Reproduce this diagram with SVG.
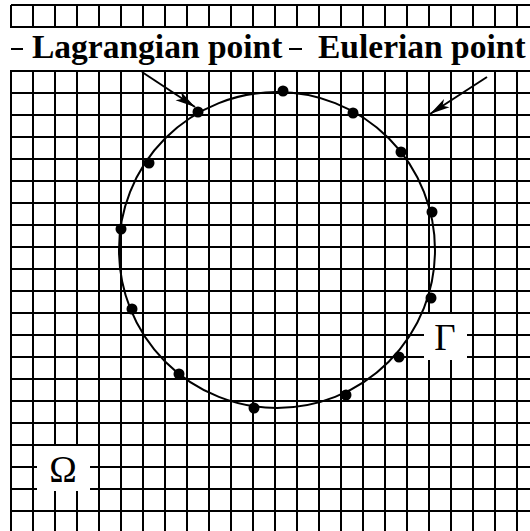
<svg xmlns="http://www.w3.org/2000/svg" width="530" height="531" viewBox="0 0 530 531">
<defs>
<style>
.grid{stroke:#000;stroke-width:2;fill:none}
.mask{fill:#fff}
.boundary{stroke:#000;stroke-width:2;fill:none}
.pt{fill:#000}
.lbl{font-family:"Liberation Serif","Times New Roman",serif;font-weight:bold;font-size:33.5px;fill:#000}
.sym{font-family:"Liberation Serif","Times New Roman",serif;font-size:37px;fill:#000}
.conn{stroke:#000;stroke-width:2;fill:none}
</style>
<marker id="ah" markerUnits="userSpaceOnUse" markerWidth="22" markerHeight="14" refX="20" refY="6" orient="auto">
<path d="M0,1 L20,6 L0,11 L5,6 z" fill="#000"/>
</marker>
</defs>
<rect width="530" height="531" fill="#fff"/>
<g id="grid">
<path class="grid" d="M11 5V531M33 5V531M55 5V531M77 5V531M99 5V531M121 5V531M143 5V531M165 5V531M187 5V531M209 5V531M231 5V531M253 5V531M275 5V531M297 5V531M319 5V531M341 5V531M363 5V531M385 5V531M407 5V531M429 5V531M451 5V531M473 5V531M495 5V531M517 5V531"/>
<path class="grid" d="M11 5H530M11 27H530M11 49H530M11 71H530M11 93H530M11 115H530M11 137H530M11 159H530M11 181H530M11 203H530M11 225H530M11 247H530M11 269H530M11 291H530M11 313H530M11 335H530M11 357H530M11 379H530M11 401H530M11 423H530M11 445H530M11 467H530M11 489H530M11 511H530"/>
</g>
<g id="label-band">
<rect class="mask" x="0" y="28" width="530" height="42"/>
<path class="grid" d="M11 49H23M289 49H302"/>
</g>
<g id="boundary">
<circle class="boundary" cx="277" cy="250" r="158"/>
</g>
<g id="lagrangian-points">
<circle class="pt" cx="198" cy="112" r="5.5"/>
<circle class="pt" cx="283" cy="91" r="5.5"/>
<circle class="pt" cx="353" cy="113" r="5.5"/>
<circle class="pt" cx="401" cy="152" r="5.5"/>
<circle class="pt" cx="432" cy="212" r="5.5"/>
<circle class="pt" cx="431" cy="298" r="5.5"/>
<circle class="pt" cx="399" cy="357" r="5.5"/>
<circle class="pt" cx="346" cy="395" r="5.5"/>
<circle class="pt" cx="254" cy="408" r="5.5"/>
<circle class="pt" cx="179" cy="374" r="5.5"/>
<circle class="pt" cx="132" cy="309" r="5.5"/>
<circle class="pt" cx="121" cy="229" r="5.5"/>
<circle class="pt" cx="149" cy="163" r="5.5"/>
</g>
<g id="label-lagrangian">
<text class="lbl" x="32" y="58">Lagrangian point</text>
</g>
<g id="label-eulerian">
<text class="lbl" x="318" y="58">Eulerian point</text>
</g>
<g id="label-gamma">
<rect class="mask" x="424" y="314" width="43" height="46"/>
<text class="sym" x="445" y="350" text-anchor="middle">Γ</text>
</g>
<g id="label-omega">
<rect class="mask" x="37" y="446" width="53" height="45"/>
<text class="sym" x="63" y="482" text-anchor="middle">Ω</text>
</g>
<g id="connectors">
<line class="conn" x1="142" y1="72" x2="195" y2="107" marker-end="url(#ah)"/>
<line class="conn" x1="487" y1="77" x2="430" y2="114" marker-end="url(#ah)"/>
</g>
</svg>
